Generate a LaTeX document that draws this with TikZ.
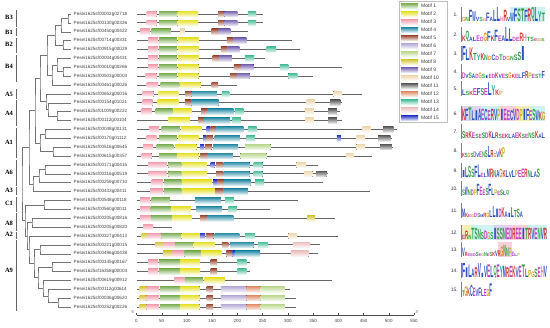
\documentclass[tikz,border=0pt]{standalone}
\usepackage{fontspec}
\setmainfont{Liberation Sans}
\setsansfont{Liberation Sans}
\newfontfamily\clfont{Liberation Serif}
\usetikzlibrary{calc}
\definecolor{mc1}{HTML}{7FB05A}
\definecolor{mc2}{HTML}{E6E12E}
\definecolor{mc3}{HTML}{F2A0B0}
\definecolor{mc4}{HTML}{2F8FA8}
\definecolor{mc5}{HTML}{A0503A}
\definecolor{mc6}{HTML}{B8ACD8}
\definecolor{mc7}{HTML}{BCD890}
\definecolor{mc8}{HTML}{D4C83A}
\definecolor{mc9}{HTML}{7C68B4}
\definecolor{mc10}{HTML}{EED8B0}
\definecolor{mc11}{HTML}{606060}
\definecolor{mc12}{HTML}{E0906C}
\definecolor{mc13}{HTML}{4CBE9C}
\definecolor{mc14}{HTML}{EEC0C0}
\definecolor{mc15}{HTML}{2E3EC8}
\definecolor{aaA}{HTML}{2A4FC0}\definecolor{aaC}{HTML}{2A4FC0}\definecolor{aaF}{HTML}{2A4FC0}
\definecolor{aaI}{HTML}{2A4FC0}\definecolor{aaL}{HTML}{2A4FC0}\definecolor{aaV}{HTML}{2A4FC0}
\definecolor{aaW}{HTML}{2A4FC0}\definecolor{aaM}{HTML}{2A4FC0}
\definecolor{aaN}{HTML}{2FA040}\definecolor{aaQ}{HTML}{2FA040}\definecolor{aaS}{HTML}{2FA040}\definecolor{aaT}{HTML}{2FA040}
\definecolor{aaD}{HTML}{C040C0}\definecolor{aaE}{HTML}{C040C0}
\definecolor{aaK}{HTML}{D03030}\definecolor{aaR}{HTML}{D03030}
\definecolor{aaH}{HTML}{E080A0}\definecolor{aaG}{HTML}{E09020}
\definecolor{aaP}{HTML}{C8B820}\definecolor{aaY}{HTML}{20A0A0}
\definecolor{bgc}{HTML}{CFF3F0}
\definecolor{bgp}{HTML}{F8D0DC}
\definecolor{bgy}{HTML}{F4EEB0}
\definecolor{bgl}{HTML}{DCD4F0}
\tikzset{
  tree/.style={draw=black!55, line width=0.5pt},
  gline/.style={draw=black!60, line width=0.8pt},
  gname/.style={font=\fontsize{4.6}{5}\selectfont, text=black!75, inner sep=0, anchor=west},
  mot/.style={top color=mc#1, bottom color=mc#1!12, draw=none},
  clbar/.style={draw=black!60, line width=0.6pt},
  cllab/.style={font=\clfont\bfseries\fontsize{6.5}{7}\selectfont, inner sep=0},
  axlab/.style={font=\fontsize{4.5}{5}\selectfont, text=black!75, inner sep=0},
  leglab/.style={font=\fontsize{5}{6}\selectfont, text=black!75, inner sep=0, anchor=west},
  numlab/.style={font=\fontsize{5}{6}\selectfont, text=black!80, inner sep=0, anchor=east},
  logoax/.style={draw=black!50, line width=0.3pt},
}
\newcommand\mtf[4]{\fill[mot=#4] ({136.5+#2*0.5045},{14+(#1-1)*8.88-2.8}) rectangle ({136.5+#3*0.5045},{14+(#1-1)*8.88+2.8});}
\newcommand\tnode[4]{%
  \path (#3) -- (#4) coordinate[pos=0.5] (#1m);
  \path let \p1=(#1m) in (#2pt,\y1) coordinate (#1);
  \draw[tree] (#3) -| (#1) |- (#4);
}
% background patch of a logo: baseline, column width, first col, last col, colour
\newcommand\logobg[5]{\fill[#5] ({462+(#3-1)*#2},{#1-15}) rectangle ({462+#4*#2},#1);}
\newcommand\logo[4]{%
  \coordinate (lga#1) at (461,#2);
  \coordinate (lgb#1) at (461,{#2-15});
  \draw[logoax] (lga#1) -- (lgb#1);
  \node[numlab] (num#1) at (458,{#2-7}) {#1.};
  \foreach \lt/\lh [count=\kk] in {#4} {
    \pgfmathsetmacro\hh{1.4*\lh}
    \node[inner sep=0, outer sep=0, anchor=south west] (lg#1-\kk) at ({462+(\kk-1)*#3},#2)
      {\resizebox{#3pt}{\hh pt}{\color{aa\lt}\bfseries\lt}};
  }
}
\begin{document}
\begin{tikzpicture}[x=1pt,y=-1pt]
\useasboundingbox (0,0) rectangle (550,328);
\fill[white] (0,0) rectangle (550,328);
% ---------------- genes
\foreach \i/\nm/\len in {1/00002g02718/251,2/00130g00326/250,3/00450g00422/221,4/00714g00331/308,
 5/00915g00029/324,6/00004g00431/255,7/00010g00266/407,8/00503g00003/350,9/00461g00026/199,
 10/00652g00016/446,11/00154g01021/407,12/01009g00222/403,13/00112g00104/407,14/00048g00131/516,
 15/00170g01112/506,16/00516g00645/509,17/00615g00357/467,18/00171g00415/360,19/00316g00519/380,
 20/00259g00710/370,21/00433g00411/463,22/00548g00118/321,23/00560g00011/265,24/00205g00816/393,
 25/00205g00820/70,26/00327g00413/400,27/00221g00015/364,28/00496g00438/360,29/00145g00167/225,
 30/16358g00003/225,31/00619g00912/387,32/00112g00614/304,33/00036g00620/316,34/00252g00226/316} {
  \coordinate (t\i) at (71,{14+(\i-1)*8.88});
  \node[gname] (lab\i) at (73.5,{14+(\i-1)*8.88}) {Pesei1625sf\nm};
  \coordinate (s\i) at (136.5,{14+(\i-1)*8.88});
  \coordinate (e\i) at ({136.5+\len*0.5045},{14+(\i-1)*8.88});
  \draw[gline] (s\i) -- (e\i);
}
% ---------------- motifs
\foreach \i/\a/\b/\m in {
 1/20/40/3,1/45/80/1,1/81/122/2,1/162/174/5,1/174/200/9,1/221/237/13,
 2/20/40/3,2/45/80/1,2/81/122/2,2/162/174/5,2/174/200/9,2/221/237/13,
 3/7/27/3,3/30/68/1,3/86/96/10,3/149/162/5,3/162/186/9,
 4/23/43/3,4/45/80/1,4/82/123/2,4/179/192/5,4/192/218/9,
 5/23/43/3,5/45/80/1,5/82/123/2,5/167/180/5,5/180/204/9,5/258/277/13,
 6/23/43/3,6/45/80/1,6/82/123/2,6/151/164/5,6/164/189/9,6/215/233/13,
 7/23/43/3,7/45/80/1,7/82/123/2,7/193/207/5,7/207/232/9,7/284/301/13,
 8/18/40/3,8/45/80/1,8/82/123/2,8/185/199/5,8/199/224/9,8/301/319/13,
 9/20/43/3,9/48/85/1,9/86/127/2,9/149/162/5,
 10/12/34/3,10/44/83/2,10/96/109/5,10/109/160/4,10/169/184/13,10/390/407/10,
 11/12/32/3,11/42/83/2,11/96/109/5,11/109/163/4,11/337/354/10,11/384/404/11,
 12/10/30/3,12/38/72/1,12/73/109/2,12/128/140/5,12/140/192/4,12/195/212/13,12/334/351/10,12/380/397/11,
 13/63/106/2,13/122/134/5,13/134/185/4,13/190/207/13,13/334/351/10,13/380/397/11,
 14/25/45/3,14/50/86/1,14/88/129/2,14/139/146/15,14/147/159/5,14/159/212/4,14/221/238/13,14/448/464/10,14/489/509/11,
 15/20/40/3,15/45/80/1,15/83/123/2,15/132/139/15,15/139/152/5,15/155/205/4,15/218/235/13,15/397/405/15,15/436/453/10,15/479/503/11,
 16/13/33/3,16/40/73/1,16/76/119/2,16/126/134/15,16/136/149/5,16/152/201/4,16/215/266/7,16/436/453/10,16/483/506/11,
 17/10/30/3,17/45/80/1,17/80/123/2,17/126/140/5,17/140/191/4,17/206/258/7,17/415/431/10,
 18/23/60/3,18/63/89/1,18/90/140/2,18/147/155/15,18/158/172/5,18/173/224/4,18/232/250/13,18/317/336/10,
 19/23/60/3,19/63/89/1,19/90/140/2,19/158/172/5,19/173/224/4,19/232/250/13,19/332/349/10,19/356/377/11,
 20/30/53/3,20/55/89/1,20/90/150/2,20/152/160/15,20/160/173/5,20/173/226/4,20/235/253/13,
 21/27/53/3,21/55/89/1,21/90/156/2,21/156/172/5,21/172/221/4,
 22/7/27/3,22/30/66/1,22/116/167/4,22/175/193/13,
 23/7/27/3,23/28/68/1,23/68/108/2,23/118/169/4,23/182/199/13,
 24/7/30/3,24/30/70/1,24/70/110/2,24/126/139/5,24/140/192/4,24/338/354/8,
 25/13/33/3,
 26/10/23/8,26/23/50/3,26/50/89/1,26/89/126/2,26/126/136/15,26/138/153/5,26/155/204/4,26/215/235/13,26/301/318/10,
 27/37/53/8,27/53/76/3,27/76/113/1,27/113/156/2,27/169/182/5,27/185/232/4,27/241/261/13,27/310/344/14,
 28/53/70/8,28/70/95/3,28/95/128/1,28/128/168/2,28/178/190/5,28/190/195/15,28/195/245/4,28/306/341/14,
 29/23/43/3,29/45/86/1,29/86/126/2,29/147/160/5,29/200/218/13,
 30/23/43/3,30/45/86/1,30/86/126/2,30/147/160/5,30/200/218/13,
 31/75/95/3,31/96/132/1,31/135/175/2,
 32/6/20/8,32/20/45/3,32/47/86/1,32/86/125/2,32/139/152/5,32/167/218/6,32/218/246/12,32/246/294/7,
 33/6/20/8,33/20/45/3,33/47/86/1,33/86/125/2,33/139/152/5,33/167/218/6,33/218/246/12,33/246/294/7,
 34/6/20/8,34/20/45/3,34/47/86/1,34/86/125/2,34/139/152/5,34/167/218/6,34/218/246/12,34/246/294/7} {
  \edef\tmp{\noexpand\mtf{\i}{\a}{\b}{\m}}\tmp
}
% ---------------- tree
\tnode{a1}{68}{t1}{t2}
\tnode{a2}{61}{a1}{t3}
\tnode{a3}{63}{t4}{t5}
\tnode{a4}{55}{a2}{a3}
\tnode{a5}{63}{t7}{t8}
\tnode{a6}{57}{t6}{a5}
\tnode{a7}{52}{a6}{t9}
\tnode{a8}{47}{a4}{a7}
\tnode{b1}{57}{t12}{t13}
\tnode{b2}{48}{t11}{b1}
\tnode{b3}{46}{t10}{b2}
\tnode{c1}{40}{a8}{b3}
\tnode{d1}{45}{t14}{t15}
\tnode{d2}{53}{t16}{t17}
\tnode{d3}{40}{d1}{d2}
\tnode{c2}{35}{c1}{d3}
\tnode{e1}{45}{t18}{t19}
\tnode{e2}{39}{e1}{t20}
\tnode{e3}{33}{e2}{t21}
\tnode{c3}{29}{c2}{e3}
\tnode{f1}{44}{t22}{t23}
\tnode{g1}{32}{t24}{t25}
\tnode{h1}{40}{t27}{t28}
\tnode{h2}{52}{t29}{t30}
\tnode{h3}{58}{t33}{t34}
\tnode{h4}{48}{t32}{h3}
\tnode{h5}{43}{t31}{h4}
\tnode{h6}{38}{h2}{h5}
\tnode{h7}{34}{h1}{h6}
\tnode{h8}{29}{t26}{h7}
\tnode{g2}{27}{g1}{h8}
\tnode{g3}{25}{f1}{g2}
\tnode{rt}{22}{c3}{g3}
% ---------------- clades
\foreach \c/\ya/\yb/\yl in {B3/10/27/17,B1/28/36/32,B2/38/53/44,B4/55/82/66,A5/89/99/94,A4/100/126/113,
  A1/128/158/142,A6/160/186/172,A3/187/195/190,C1/197/212/203,A8/213/231/223,A2/232/239/234,A9/240/311/270} {
  \node[cllab] (cl\c) at (9,\yl) {\c};
  \coordinate (cba\c) at (16,\ya);
  \coordinate (cbb\c) at (16,\yb);
  \draw[clbar] (cba\c) -- (cbb\c);
}
% ---------------- axis
\coordinate (ax0) at (136.5,315);
\coordinate (ax1) at (414,315);
\draw[black!70, line width=0.5pt] (ax0) -- (ax1);
\foreach \v in {0,50,...,550} {
  \coordinate (tk\v) at ({136.5+\v*0.5045},315);
  \draw[black!70, line width=0.4pt] (tk\v) -- ++(0,-1.8);
  \node[axlab] (tl\v) at ({136.5+\v*0.5045},320.8) {\v};
}
\node[axlab, font=\fontsize{3.8}{4}\selectfont] (five) at (133,312.5) {5'};
\node[axlab, font=\fontsize{3.8}{4}\selectfont] (three) at (417,312.5) {3'};
% ---------------- legend
\draw[black!25, line width=0.4pt] (399,1.5) rectangle (447,122.5);
\foreach \k in {1,...,15} {
  \edef\tmp{\noexpand\fill[mot=\k] (401,{6+(\k-1)*8-2.5}) rectangle (418,{6+(\k-1)*8+2.5});}\tmp
  \node[leglab] (leg\k) at (421,{6+(\k-1)*8}) {Motif \k};
}
% ---------------- logo backgrounds
\logobg{22}{3.46}{15}{24}{bgc}
\logobg{121}{3.2}{1}{6}{bgl}
\logobg{121}{3.2}{7}{12}{bgc}
\logobg{121}{3.2}{13}{17}{bgp}
\logobg{121}{3.2}{18}{22}{bgy}
\logobg{121}{3.2}{23}{26}{bgc}
\logobg{240}{3.15}{1}{3}{bgy}
\logobg{240}{3.15}{4}{10}{bgc}
\logobg{240}{3.15}{11}{16}{bgl}
\logobg{240}{3.15}{17}{21}{bgp}
\logobg{240}{3.15}{22}{27}{bgc}
\logobg{257}{2.76}{14}{18}{bgp}
% ---------------- logos
\logo{1}{22}{3.46}{G/3,N/3,F/8,W/7,V/3,S/3,G/2,F/6,A/3,L/8,L/10,H/3,R/8,V/3,W/6,F/9,S/9,T/9,F/8,R/9,Q/8,L/10,Y/7,T/6}
\logo{2}{42}{3.6}{K/4,Q/6,A/3,L/3,E/4,D/3,G/6,F/7,K/4,F/8,E/4,A/4,L/10,L/9,D/3,E/3,R/6,H/5,T/3,S/3,E/2,G/2,S/2}
\logo{3}{61}{3.7}{F/10,L/8,K/9,T/5,Y/4,K/5,N/4,G/3,C/4,D/3,T/4,D/3,G/3,N/3,S/4,S/6,I/10}
\logo{4}{79}{3.32}{D/4,V/3,S/4,A/3,D/3,G/4,S/3,I/2,E/3,D/3,K/4,V/3,E/3,S/3,G/4,K/3,E/3,L/3,F/4,R/5,P/4,E/3,S/3,T/3,F/5}
\logo{5}{96}{3.7}{L/4,S/3,K/3,E/5,F/5,S/5,E/5,L/9,Y/7,K/4,P/3}
\logo{6}{121}{3.2}{K/8,F/8,T/9,L/7,I/7,A/8,E/8,C/8,E/7,R/8,V/8,P/8,I/8,E/8,E/7,C/7,V/8,D/8,P/8,I/8,F/8,E/7,S/8,W/7,K/6,G/6}
\logo{7}{139}{3.32}{S/5,R/4,K/5,E/4,S/3,E/3,S/4,D/4,K/5,L/4,R/4,S/3,E/3,K/3,L/3,A/3,E/4,K/4,S/3,E/3,N/4,S/4,K/5,A/3,L/4}
\logo{8}{158}{2.87}{K/3,S/3,G/3,S/3,D/4,V/3,E/4,N/4,S/5,L/8,R/5,G/3,V/4,K/6,P/7}
\logo{9}{178}{3.12}{I/5,L/7,S/8,S/6,F/8,L/9,E/3,L/3,M/6,R/6,N/5,A/5,G/6,K/5,L/5,V/4,L/5,P/5,E/5,E/6,R/6,N/5,L/4,A/4,S/6}
\logo{10}{196}{2.94}{S/4,W/6,N/4,D/4,P/4,F/8,E/6,E/4,S/5,F/8,L/5,P/4,E/3,S/4,L/3,Q/3}
\logo{11}{218}{3.05}{M/6,K/3,E/2,G/2,D/3,S/3,M/2,R/3,G/3,L/5,L/8,I/6,D/6,K/7,A/4,I/3,L/7,T/5,S/6,A/4}
\logo{12}{240}{3.15}{E/3,R/6,N/3,T/8,S/8,N/7,S/5,D/6,G/5,S/5,I/8,S/8,S/8,N/8,E/8,D/8,R/8,E/8,E/8,I/8,T/8,R/8,V/8,E/8,N/8,V/8,R/8}
\logo{13}{257}{2.76}{V/6,R/3,E/2,E/2,D/2,S/3,E/2,G/2,N/3,E/2,S/3,K/3,V/4,R/4,G/7,N/8,N/6,P/6,E/3,L/2,P/2}
\logo{14}{278}{3.15}{F/10,I/7,L/9,A/6,R/7,V/10,I/3,V/8,E/9,L/8,Q/7,E/9,Y/8,M/8,R/7,E/8,K/8,V/7,E/8,T/9,L/6,P/5,G/4,S/6,E/7,H/8,V/8}
\logo{15}{297}{2.73}{T/4,G/7,K/6,C/8,E/6,V/5,F/6,L/5,E/5,G/5,F/9}
\end{tikzpicture}
\end{document}
